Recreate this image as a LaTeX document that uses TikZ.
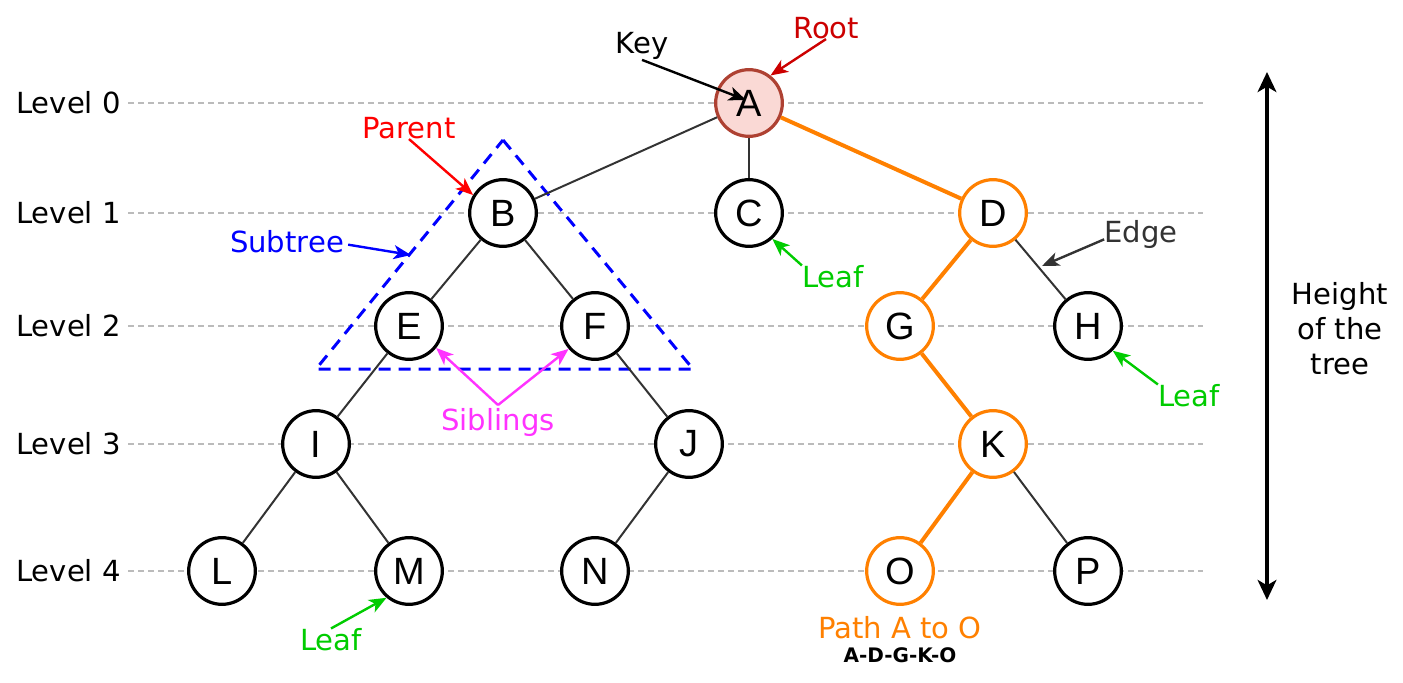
\documentclass[tikz,border=0pt]{standalone}
\usepackage{fontspec}
\setmainfont{DejaVu Sans}
\newfontfamily\nodefont{Liberation Sans}
\usetikzlibrary{arrows.meta}
\definecolor{orangeP}{HTML}{FF8000}
\definecolor{edgegray}{HTML}{333333}
\definecolor{rootred}{HTML}{CC0000}
\definecolor{parentred}{HTML}{FF0000}
\definecolor{subblue}{HTML}{0000FF}
\definecolor{leafgreen}{HTML}{00CC00}
\definecolor{sibmag}{HTML}{FF33FF}
\definecolor{afill}{HTML}{FAD9D5}
\definecolor{adraw}{HTML}{AE4132}
\definecolor{levgray}{HTML}{BBBBBB}
\begin{document}
\begin{tikzpicture}[x=0.75pt,y=-0.75pt,
  tnode/.style={circle,draw=black,line width=2.4pt,fill=white,minimum size=50pt,inner sep=0pt,font=\nodefont\fontsize{28.5}{30}\selectfont},
  onode/.style={tnode,draw=orangeP},
  tedge/.style={draw=edgegray,line width=1.5pt},
  oedge/.style={draw=orangeP,line width=3pt},
  lbl/.style={font=\fontsize{21.8}{26}\selectfont,inner sep=0pt},
  callout/.style={line width=1.8pt,-{Stealth[length=13pt,width=10.5pt,inset=3.5pt]}},
  levelline/.style={draw=levgray,line width=1pt,dash pattern=on 4.5pt off 3pt}
]
\useasboundingbox (0,0) rectangle (1403,682);

% level labels and lines
\foreach \n/\y in {0/103,1/213,2/326,3/444,4/571}{
  \node[lbl,anchor=west] (lev\n) at (16,\y) {Level \n};
  \coordinate (ls\n) at (128,\y);
  \coordinate (le\n) at (1203,\y);
  \draw[levelline] (ls\n) -- (le\n);
}

% subtree triangle
\coordinate (tA) at (503,140);
\coordinate (tL) at (316,369);
\coordinate (tR) at (693,369);
\draw[subblue,line width=2.25pt,dash pattern=on 9pt off 6pt] (tA) -- (tR) -- (tL) -- cycle;

% tree nodes
\node[tnode,fill=afill,draw=adraw] (A) at (749,103) {A};
\node[tnode] (B) at (503,213) {B};
\node[tnode] (C) at (749,213) {C};
\node[onode] (D) at (993,213) {D};
\node[tnode] (E) at (409,326) {E};
\node[tnode] (F) at (595,326) {F};
\node[onode] (G) at (900,326) {G};
\node[tnode] (H) at (1088,326) {H};
\node[tnode] (I) at (316,444) {I};
\node[tnode] (J) at (689,444) {J};
\node[onode] (K) at (993,444) {K};
\node[tnode] (L) at (222,571) {L};
\node[tnode] (M) at (409,571) {M};
\node[tnode] (N) at (595,571) {N};
\node[onode] (O) at (900,571) {O};
\node[tnode] (P) at (1088,571) {P};

% edges
\draw[tedge] (A) -- (B);
\draw[tedge] (A) -- (C);
\draw[oedge] (A) -- (D);
\draw[tedge] (B) -- (E);
\draw[tedge] (B) -- (F);
\draw[oedge] (D) -- (G);
\draw[tedge] (D) -- (H);
\draw[tedge] (E) -- (I);
\draw[tedge] (F) -- (J);
\draw[oedge] (G) -- (K);
\draw[tedge] (I) -- (L);
\draw[tedge] (I) -- (M);
\draw[tedge] (J) -- (N);
\draw[oedge] (K) -- (O);
\draw[tedge] (K) -- (P);

% annotations
\node[lbl] (key) at (642,46) {Key};
\coordinate (keyend) at (746,100);
\draw[callout,black] (key.south) -- (keyend);

\node[lbl,text=rootred] (root) at (826,28) {Root};
\draw[callout,rootred] (root.south) -- (A.52);

\node[lbl,text=parentred] (parent) at (409,128) {Parent};
\draw[callout,parentred] (parent.south) -- (B.149);

\node[lbl,text=subblue] (subtree) at (287,242) {Subtree};
\coordinate (subend) at (411,255);
\draw[callout,subblue] ([xshift=3pt,yshift=-2pt]subtree.east) -- (subend);

\node[lbl,text=leafgreen] (leafC) at (833,277) {Leaf};
\draw[callout,leafgreen] (leafC.north west) -- (C.-48);

\node[lbl,text=edgegray] (edgel) at (1141,234) {Edge};
\coordinate (edgeend) at (1042,266);
\draw[callout,edgegray] ([yshift=-4pt]edgel.west) -- (edgeend);

\node[lbl,text=leafgreen] (leafH) at (1189,396) {Leaf};
\draw[callout,leafgreen] (leafH.north west) -- (H.-45);

\node[lbl,text=sibmag] (sib) at (498,422) {Siblings};
\draw[callout,sibmag] ([yshift=2pt]sib.north) -- (E.-39);
\draw[callout,sibmag] ([yshift=2pt]sib.north) -- (F.-139);

\node[lbl,text=leafgreen] (leafM) at (331,640) {Leaf};
\draw[callout,leafgreen] (leafM.north) -- (M.-130);

\node[lbl,text=orangeP] (path) at (900,628) {Path A to O};
\node[inner sep=0pt,font=\bfseries\fontsize{15}{17}\selectfont] (pathseq) at (900,655) {A-D-G-K-O};

% height
\node[lbl,align=center,font=\fontsize{21.8}{26.25}\selectfont] (height) at (1340,329) {Height\\of the\\tree};
\coordinate (htop) at (1267,72);
\coordinate (hbot) at (1267,600);
\draw[line width=3pt,{Stealth[length=15pt,width=14pt,inset=4pt]}-{Stealth[length=15pt,width=14pt,inset=4pt]}] (htop) -- (hbot);
\end{tikzpicture}
\end{document}
